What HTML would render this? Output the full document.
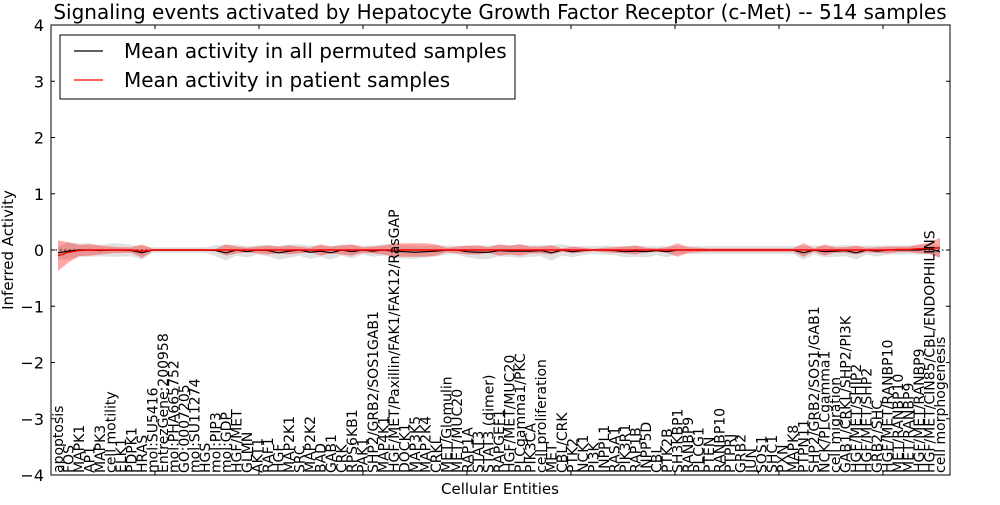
<!DOCTYPE html>
<html><head><meta charset="utf-8"><style>
body{margin:0;background:#fff;}
svg{font-family:"DejaVu Sans","Liberation Sans",sans-serif;}
</style></head><body>
<svg id="chart" width="1000" height="500" xmlns="http://www.w3.org/2000/svg">
<rect width="1000" height="500" fill="#fff"/>
<text x="500" y="19" font-size="20" text-anchor="middle">Signaling events activated by Hepatocyte Growth Factor Receptor (c-Met) -- 514 samples</text>
<g id="bands"></g>
<g id="lines"></g>
<g id="xlabels"></g>
<rect x="51" y="25" width="899" height="450" fill="none" stroke="#000" stroke-width="1"/>
<g id="yaxis"></g>
<g id="xticks"></g>
<text transform="translate(13,250) rotate(-90)" font-size="15" text-anchor="middle">Inferred Activity</text>
<text x="500" y="494" font-size="15" text-anchor="middle">Cellular Entities</text>
<g>
<rect x="60" y="35" width="455" height="64" fill="#fff" stroke="#000" stroke-width="1"/>
<line x1="74" y1="51" x2="103" y2="51" stroke="#000" stroke-width="1.2"/>
<text x="124" y="58" font-size="20">Mean activity in all permuted samples</text>
<line x1="74" y1="80" x2="103" y2="80" stroke="#f00" stroke-width="1.2"/>
<text x="124" y="87" font-size="20">Mean activity in patient samples</text>
</g>
</svg>
<script>
const categories=["apoptosis","FOS","MAPK1","AP1","MAPK3","cell motility","ELK1","PDPK1","HRAS","mol:SU5416","EntrezGene:200958","mol:PHA665752","GO:0007205","mol:SU11274","HGS","mol:PIP3","mol:GDP","HGF/MET","GLMN","AKT1","RAF1","HGF","MAP2K1","SRC","MAP2K2","BAD","GAB1","CRK","RPS6KB1","PAK1","SHP2/GRB2/SOS1GAB1","MAP4K1","HGF/MET/Paxillin/FAK1/FAK12/RasGAP","DOCK1","MAP3K5","MAP2K4","CRKL","MET/Glomulin","MET/MUC20","RAP1A","STAT3","STAT3 (dimer)","RAPGEF1","HGF/MET/MUC20","PLCgamma1/PKC","PIK3CA","cell proliferation","MET","CBL/CRK","PTK2","NCK1","PI3K","INPPL1","RASA1","PIK3R1","RAP1B","INPP5D","CBL","PTK2B","SH3KBP1","RANBP9","PLCG1","PTEN","RANBP10","PTPRJ","GRB2","JUN","SOS1","SHC1","PXN","MAPK8","PTPN11","SHP2/GRB2/SOS1/GAB1","NCK/PLCgamma1","cell migration","GAB1/CRKL/SHP2/PI3K","HGF/MET/SHIP2","HGF/MET/SHP2","GRB2/SHC","HGF/MET/RANBP10","MET/RANBP10","MET/RANBP9","HGF/MET/RANBP9","HGF/MET/CIN85/CBL/ENDOPHILINS","cell morphogenesis"];
const permMean=[-0.05,-0.02,0,0,-0.01,0,0,-0.01,-0.05,0,0,0,0,0,0,-0.01,-0.05,0,-0.03,0,-0.01,-0.05,-0.02,0,-0.04,-0.02,-0.05,0,-0.03,0,-0.02,0,-0.02,-0.03,-0.04,-0.03,-0.02,0,0,-0.03,-0.04,-0.04,-0.01,-0.02,-0.02,-0.02,-0.01,-0.05,0,-0.03,-0.01,0,0,-0.01,-0.03,-0.02,-0.03,-0.01,-0.03,0,0,0,0,0,0,0,0,0,0,0,0,-0.05,0,-0.03,-0.02,-0.01,-0.05,0,-0.02,0,0,0,0,0.02,-0.03];
const permStd=[0.12,0.15,0.12,0.12,0.1,0.12,0.12,0.1,0.12,0.05,0.05,0.05,0.05,0.05,0.05,0.1,0.14,0.1,0.1,0.08,0.1,0.12,0.12,0.1,0.12,0.1,0.12,0.1,0.12,0.08,0.1,0.1,0.12,0.12,0.12,0.1,0.1,0.08,0.08,0.1,0.12,0.12,0.1,0.1,0.12,0.1,0.1,0.14,0.1,0.1,0.08,0.07,0.08,0.08,0.1,0.1,0.1,0.08,0.1,0.07,0.07,0.07,0.07,0.07,0.07,0.07,0.07,0.07,0.07,0.07,0.07,0.12,0.08,0.1,0.1,0.1,0.12,0.08,0.1,0.08,0.08,0.08,0.08,0.1,0.1];
const patMean=[-0.1,-0.04,-0.01,0,0,0,0,0,-0.02,0,0,0,0,0,0,0,0,0,0,0,0,0,0,0,0,0,0,0,0,0,0,0,0,0,0,0,0,0,0,0,0,0,0,0,0,0,0,0,0,0,0,0,0,0,0,0,0,0,0,0,0,0,0,0,0,0,0,0,0,0,0,0,0,0,0,0,0,0,0,0,0.01,0.01,0.02,0.03,0.04];
const patStd=[0.27,0.18,0.1,0.1,0.08,0.06,0.05,0.05,0.12,0.02,0.02,0.02,0.02,0.02,0.02,0.02,0.1,0.06,0.04,0.06,0.08,0.06,0.08,0.06,0.04,0.1,0.06,0.08,0.1,0.05,0.06,0.08,0.12,0.12,0.12,0.12,0.1,0.04,0.06,0.08,0.08,0.05,0.1,0.08,0.1,0.06,0.06,0.08,0.03,0.06,0.04,0.02,0.04,0.05,0.06,0.08,0.04,0.03,0.05,0.12,0.05,0.04,0.03,0.03,0.03,0.03,0.03,0.03,0.03,0.03,0.03,0.12,0.03,0.1,0.05,0.05,0.08,0.04,0.05,0.06,0.05,0.05,0.08,0.1,0.18];
const yTicks=[-4,-3,-2,-1,0,1,2,3,4];
const NS='http://www.w3.org/2000/svg';
function xs(i){return 58+i*(882/(categories.length-1));}
function ys(v){return 250-v*56.25;}
function mk(tag,attrs,parent){const e=document.createElementNS(NS,tag);for(const k in attrs)e.setAttribute(k,attrs[k]);parent.appendChild(e);return e;}
const bands=document.getElementById('bands'),lines=document.getElementById('lines');
function band(mean,std,fill,op,name){
  let up=mean.map((m,i)=>xs(i)+','+ys(m+std[i])),dn=mean.map((m,i)=>xs(i)+','+ys(m-std[i])).reverse();
  const p=mk('polygon',{points:up.concat(dn).join(' '),fill:fill,'fill-opacity':op,stroke:'none'},bands);
  
  
}
band(permMean,permStd,'#aaaaaa',0.35,'permuted-band');
band(patMean,patStd,'#ff0000',0.35,'patient-band');
const zl=mk('line',{x1:51,x2:950,y1:ys(0),y2:ys(0),stroke:'#000','stroke-dasharray':'1.5,3','stroke-width':1},lines);


const l1=mk('polyline',{points:permMean.map((m,i)=>xs(i)+','+ys(m)).join(' '),fill:'none',stroke:'#000','stroke-width':1.2},lines);


const l2=mk('polyline',{points:patMean.map((m,i)=>xs(i)+','+ys(m)).join(' '),fill:'none',stroke:'#f00','stroke-width':1.4},lines);


const xl=document.getElementById('xlabels');
categories.forEach((c,i)=>{
  const t=mk('text',{transform:'translate('+(xs(i)+5)+',473) rotate(-90)','font-size':14},xl);
  t.textContent=c;
  
  
});
const ya=document.getElementById('yaxis');
yTicks.forEach(v=>{
  mk('line',{x1:51,x2:55,y1:ys(v),y2:ys(v),stroke:'#000'},ya);
  mk('line',{x1:946,x2:950,y1:ys(v),y2:ys(v),stroke:'#000'},ya);
  const t=mk('text',{x:44,y:ys(v)+6,'font-size':16,'text-anchor':'end'},ya);
  t.textContent=v<0?'\u2212'+Math.abs(v):String(v);
  
  
});
const xt=document.getElementById('xticks');
for(let k=1;k<=8;k++){const x=51+k*104;mk('line',{x1:x,x2:x,y1:25,y2:29,stroke:'#000'},xt);mk('line',{x1:x,x2:x,y1:471,y2:475,stroke:'#000'},xt);}
</script>
</body></html>
